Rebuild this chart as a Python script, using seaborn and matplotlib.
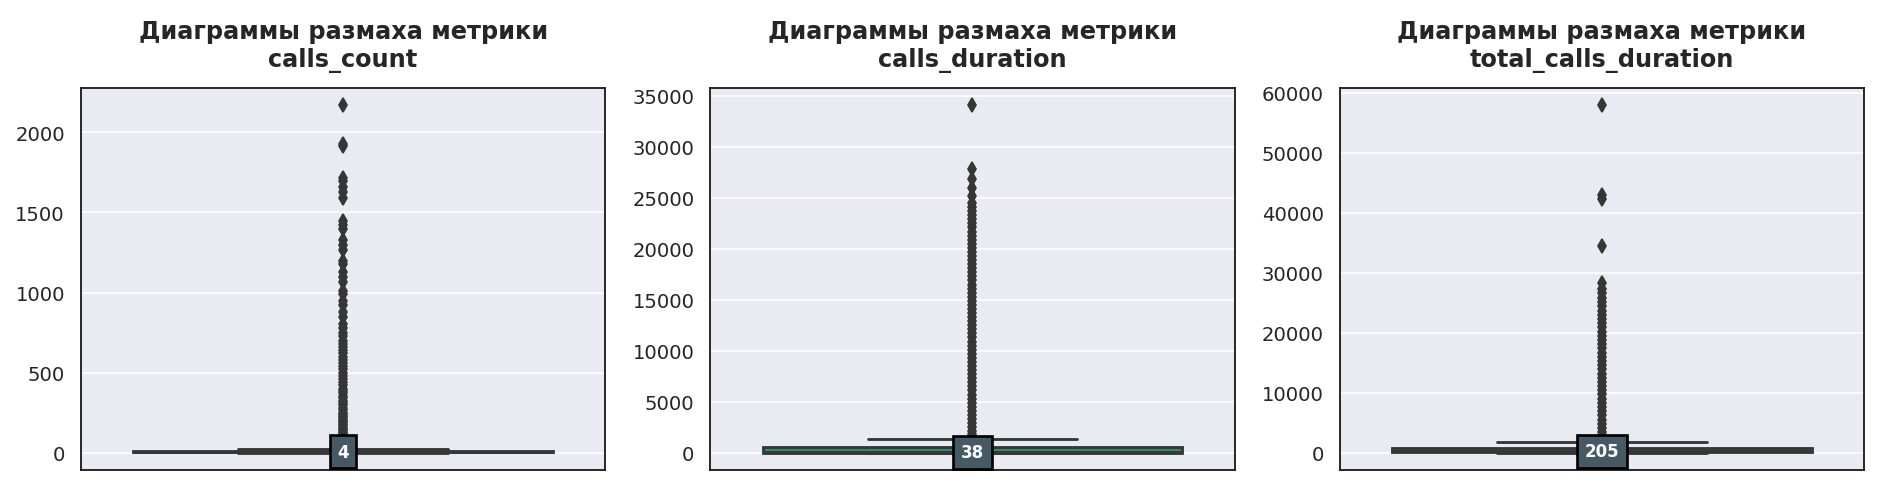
import numpy as np
import pandas as pd
import matplotlib
matplotlib.use("Agg")
import matplotlib.pyplot as plt
import seaborn as sns

# metric names
metrics = ["calls_count", "calls_duration", "total_calls_duration"]

# box statistics: lower whisker, Q1, median, Q3, upper whisker
calls_count_box = [0, 1, 4, 11, 24]
calls_duration_box = [0, 0, 38, 530, 1300]
total_calls_duration_box = [0, 30, 205, 760, 1830]

# outliers (above the upper whisker)
calls_count_out = [2170, 1925, 1915, 1715, 1695, 1660, 1630, 1590, 1445, 1425, 1400,
                   1330, 1300, 1265, 1200, 1180, 1130, 1100, 1065, 1010, 990, 950,
                   920, 880, 850, 805, 780, 750, 730, 700, 680, 660, 640, 620, 600,
                   580, 560, 540, 520, 500, 480, 460, 440, 420, 400, 385, 370, 355,
                   340, 325, 310, 295, 280, 265, 250, 240, 230, 220, 210, 200, 190,
                   180, 170, 160, 150, 140, 130, 120, 110, 100, 95, 90, 85, 80, 75,
                   70, 65, 60, 55, 50, 46, 42, 38, 34, 30, 28]
calls_duration_out = [34100, 27800, 26900, 26000, 25200, 24500, 24100, 23700, 23300,
                      22900, 22500, 22100, 21700, 21300, 20900, 20500, 20100, 19700,
                      19300, 18900, 18500, 18100, 17700, 17300, 16900, 16500, 16100,
                      15700, 15300, 14900, 14500, 14100, 13700, 13300, 12900, 12500,
                      12100, 11700, 11300, 10900, 10500, 10100, 9700, 9300, 8900,
                      8500, 8100, 7700, 7300, 6900, 6500, 6100, 5700, 5300, 4900,
                      4500, 4100, 3700, 3300, 2900, 2500, 2100, 1800, 1500, 1400]
total_calls_duration_out = [58000, 43000, 42400, 34500, 28400, 27300, 26600, 25800,
                            25100, 24400, 23700, 23000, 22300, 21600, 20900, 20200,
                            19500, 18800, 18100, 17400, 16700, 16000, 15300, 14600,
                            13900, 13200, 12500, 11800, 11100, 10400, 9700, 9000,
                            8300, 7600, 6900, 6200, 5500, 4800, 4100, 3400, 2900,
                            2500, 2200, 2000]

boxes = [calls_count_box, calls_duration_box, total_calls_duration_box]
outliers = [calls_count_out, calls_duration_out, total_calls_duration_out]

sns.set_theme(style="darkgrid")
plt.rcParams["font.family"] = ["DejaVu Sans"]

fig, axes = plt.subplots(1, 3, figsize=(15.66, 4.03), dpi=120)
plt.subplots_adjust(left=0.043, right=0.992, top=0.817, bottom=0.027, wspace=0.2)

for ax, name, box, out in zip(axes, metrics, boxes, outliers):
    # each box statistic weighted so the quartiles land on the read values
    values = np.concatenate([np.repeat(box, 5000), out])
    df = pd.DataFrame({name: values})
    sns.boxplot(data=df, y=name, ax=ax, color="#2f8a68", saturation=1,
                linecolor="#363636", linewidth=1.7, width=0.8,
                flierprops=dict(marker="d", markerfacecolor="#363636",
                                markeredgecolor="#363636", markersize=6))
    med = np.median(values)
    ax.text(0, med, f"{int(med)}", ha="center", va="center", color="white",
            fontsize=10, fontweight="bold",
            bbox=dict(boxstyle="square,pad=0.45", facecolor="#455a64",
                      edgecolor="black", linewidth=1.6))
    ax.set_title(f"Диаграммы размаха метрики\n{name}", fontsize=14.4,
                 fontweight="bold", pad=13)
    ax.set_ylabel("")
    ax.set_xlabel("")
    ax.set_xticks([])
    ax.tick_params(axis="y", labelsize=11.8)
    for s in ax.spines.values():
        s.set_visible(True)
        s.set_color("#1a1a1a")
        s.set_linewidth(1.1)

fig.savefig("out.png", dpi=120)
